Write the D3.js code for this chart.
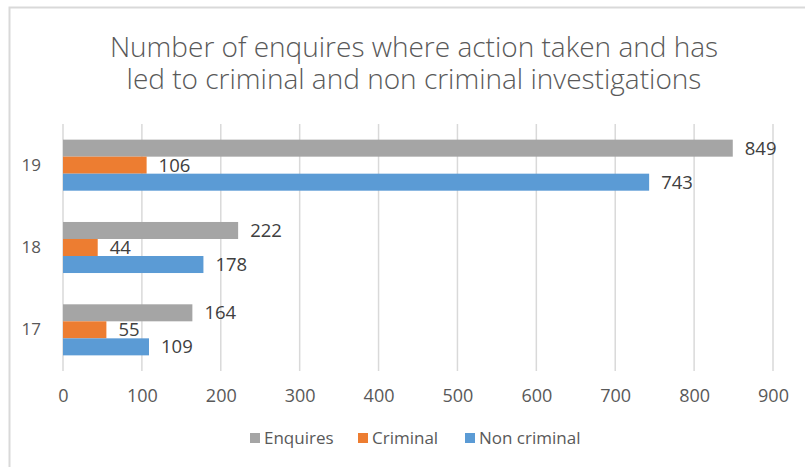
<!DOCTYPE html>
<html>
<head>
<meta charset="utf-8">
<script src="https://cdn.jsdelivr.net/npm/d3@7"></script>
<style>
  html, body { margin: 0; padding: 0; background: #fff; }
  svg { display: block; }
  text { font-family: "Open Sans", "Noto Sans", sans-serif; }
</style>
</head>
<body>
<svg id="chart" width="805" height="467"></svg>
<script>
// Years shown on the category axis (top to bottom)
const years = ["19", "18", "17"];
// Series, in the order they appear inside each year group
const seriesNames = ["Enquires", "Criminal", "Non criminal"];
const enquires = [849, 222, 164];
const criminal = [106, 44, 55];
const nonCriminal = [743, 178, 109];
const xTicks = [0, 100, 200, 300, 400, 500, 600, 700, 800, 900];
const titleLines = [
  "Number of enquires where action taken and has",
  "led to criminal and non criminal investigations"
];
const colors = ["#A5A5A5", "#ED7D31", "#5B9BD5"];

const seriesValues = [enquires, criminal, nonCriminal];
const rows = years.map((y, i) => ({
  year: y,
  values: seriesNames.map((s, k) => ({ key: s, value: seriesValues[k][i], color: colors[k] }))
}));

const svg = d3.select("#chart");

// Chart area frame
svg.append("rect")
  .attr("x", 9.5).attr("y", 7.5)
  .attr("width", 820).attr("height", 480)
  .attr("fill", "#fff")
  .attr("stroke", "#D9D9D9").attr("stroke-width", 2);

const plot = { left: 63, right: 773, top: 124, bottom: 371 };

const x = d3.scaleLinear().domain([0, 900]).range([plot.left, plot.right]);
const y0 = d3.scaleBand().domain(years).range([plot.top, plot.bottom])
  .paddingInner(0.38).paddingOuter(0.19);
const y1 = d3.scaleBand().domain(seriesNames).range([0, y0.bandwidth()]);

// Title, one text element per line
svg.append("g").selectAll("text").data(titleLines).join("text")
  .attr("x", 414)
  .attr("y", (d, i) => 57 + i * 32)
  .attr("text-anchor", "middle")
  .attr("fill", "#595959")
  .attr("font-weight", 300)
  .attr("font-size", 28)
  .text(d => d);

// Vertical gridlines
svg.append("g").selectAll("line").data(xTicks).join("line")
  .attr("x1", d => x(d)).attr("x2", d => x(d))
  .attr("y1", plot.top).attr("y2", plot.bottom)
  .attr("stroke", "#D9D9D9").attr("stroke-width", 1.5);

// Value axis
const xAxis = svg.append("g")
  .attr("transform", `translate(0,${plot.bottom})`)
  .call(d3.axisBottom(x).tickValues(xTicks).tickSize(0).tickPadding(18));
xAxis.select(".domain").remove();
xAxis.selectAll("text")
  .attr("fill", "#595959")
  .attr("font-size", 18)
  .attr("font-family", "\"Open Sans\", sans-serif");

// Category axis
const yAxis = svg.append("g")
  .attr("transform", `translate(${plot.left},0)`)
  .call(d3.axisLeft(y0).tickSize(0).tickPadding(22));
yAxis.select(".domain").remove();
yAxis.selectAll("text")
  .attr("fill", "#595959")
  .attr("font-size", 17)
  .attr("font-family", "\"Open Sans\", sans-serif");

// Bars and value labels
const groups = svg.append("g").selectAll("g").data(rows).join("g")
  .attr("transform", d => `translate(0,${y0(d.year)})`);

groups.selectAll("rect").data(d => d.values).join("rect")
  .attr("x", x(0))
  .attr("y", d => y1(d.key))
  .attr("width", d => x(d.value) - x(0))
  .attr("height", y1.bandwidth())
  .attr("fill", d => d.color);

groups.selectAll("text").data(d => d.values).join("text")
  .attr("x", d => x(d.value) + 12)
  .attr("y", d => y1(d.key) + y1.bandwidth() / 2)
  .attr("dy", "0.36em")
  .attr("fill", "#404040")
  .attr("font-size", 18.5)
  .text(d => d.value);

// Legend
const legendItems = [
  { key: seriesNames[0], color: colors[0], x: 250 },
  { key: seriesNames[1], color: colors[1], x: 358 },
  { key: seriesNames[2], color: colors[2], x: 465 }
];
const legend = svg.append("g").selectAll("g").data(legendItems).join("g")
  .attr("transform", d => `translate(${d.x},438)`);
legend.append("rect")
  .attr("x", 0).attr("y", -5).attr("width", 10).attr("height", 10)
  .attr("fill", d => d.color);
legend.append("text")
  .attr("x", 14).attr("dy", "0.36em")
  .attr("fill", "#595959")
  .attr("font-size", 17)
  .text(d => d.key);
</script>
</body>
</html>
